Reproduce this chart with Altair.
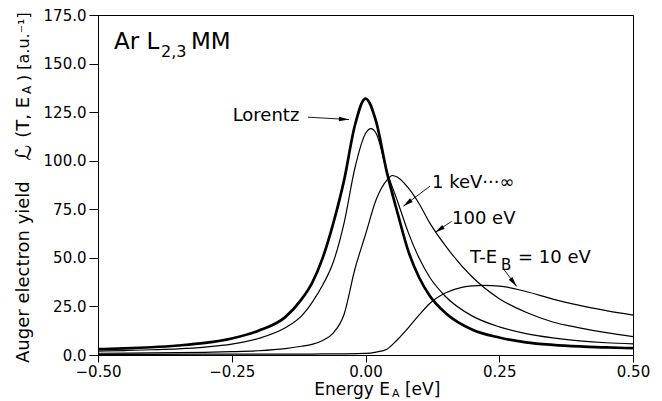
import altair as alt
import pandas as pd

# ---- data ----
lor_x = [-0.5, -0.45, -0.4, -0.35, -0.3, -0.25, -0.2, -0.15, -0.12, -0.1, -0.08, -0.06, -0.04, -0.02,
         0.0, 0.02, 0.04, 0.06, 0.08, 0.1, 0.12, 0.15, 0.2, 0.25, 0.3, 0.35, 0.4, 0.45, 0.5]
lor_y = [3.0, 3.4, 4.0, 4.9, 6.2, 8.5, 12.5, 19.5, 28.5, 37, 50, 68, 90, 118,
         132, 120, 94, 73, 53.5, 40, 30.5, 21.5, 13, 9, 6.5, 5.2, 4.4, 3.9, 3.5]

kev_x = [-0.5, -0.45, -0.4, -0.35, -0.3, -0.25, -0.2, -0.15, -0.12, -0.1, -0.08, -0.06, -0.04, -0.02,
         0.0, 0.01, 0.02, 0.04, 0.06, 0.08, 0.1, 0.12, 0.15, 0.2, 0.25, 0.3, 0.35, 0.4, 0.45, 0.5]
kev_y = [2.0, 2.3, 2.7, 3.2, 4.1, 5.6, 8.5, 14, 20, 27, 36, 48, 68, 96,
         114, 116.5, 114, 94.5, 79, 63, 50, 40, 30, 20, 14.5, 11, 8.8, 7.3, 6.3, 5.7]

ev100_x = [-0.5, -0.4, -0.3, -0.25, -0.2, -0.15, -0.12, -0.1, -0.08, -0.06, -0.04, -0.02,
           0.0, 0.02, 0.04, 0.05, 0.06, 0.08, 0.1, 0.12, 0.15, 0.2, 0.25, 0.3, 0.35, 0.4, 0.45, 0.5]
ev100_y = [0.9, 1.1, 1.4, 1.7, 2.2, 3.3, 4.5, 5.5, 7.5, 11.4, 21, 44,
           62, 80, 90, 92.4, 91.5, 86, 78, 68, 56, 40, 29, 22, 17, 14, 11.5, 9.5]

ev10_x = [-0.5, -0.3, -0.1, -0.05, 0.0, 0.02, 0.04, 0.06, 0.08, 0.1, 0.12, 0.15, 0.18, 0.2,
          0.22, 0.25, 0.3, 0.35, 0.4, 0.45, 0.5]
ev10_y = [0.3, 0.4, 0.5, 0.6, 0.8, 1.5, 3.0, 8.0, 14.0, 20.5, 26.5, 32, 34.8, 35.6,
          35.8, 35.5, 32.7, 28.8, 25.5, 22.8, 20.5]

x_ticks = [-0.5, -0.25, 0.0, 0.25, 0.5]
y_ticks = [0, 25, 50, 75, 100, 125, 150, 175]

# arrows: start (x, y) -> tip (x, y), head angle (deg, clockwise from up)
arrow_x1 = [-0.1075, 0.1206, 0.161, 0.259]
arrow_y1 = [122.4, 86.9, 68.8, 43.9]
arrow_x2 = [-0.031, 0.0707, 0.130, 0.2826]
arrow_y2 = [121.2, 76.6, 63.1, 35.3]
arrow_ang = [93, 233, 236.6, 142.7]

FONT = "DejaVu Sans"

xs = alt.Scale(domain=[-0.5, 0.5], nice=False, zero=False)
ys = alt.Scale(domain=[0, 175], nice=False)
AX = alt.Axis(values=x_ticks, format=".2f", title=None, grid=False, tickSize=7,
              labelPadding=2, labelFontSize=15, labelFont=FONT, labelColor="black",
              domainColor="black", tickColor="black", labelFlush=False)
AY = alt.Axis(values=y_ticks, format=".1f", title=None, grid=False, tickSize=9,
              labelPadding=3, labelFontSize=15, labelFont=FONT, labelColor="black",
              domainColor="black", tickColor="black")


def X(f="x"):
    return alt.X(f"{f}:Q", scale=xs, axis=AX)


def Y(f="y"):
    return alt.Y(f"{f}:Q", scale=ys, axis=AY)


def series(xv, yv, name):
    return pd.DataFrame({"x": xv, "y": yv, "s": name})


thin = pd.concat([series(kev_x, kev_y, "1 keV"),
                  series(ev100_x, ev100_y, "100 eV"),
                  series(ev10_x, ev10_y, "10 eV")])
lor = series(lor_x, lor_y, "Lorentz")

thin_lines = alt.Chart(thin).mark_line(color="black", strokeWidth=1.2, interpolate="monotone").encode(
    x=X(), y=Y(), detail="s:N")
lor_line = alt.Chart(lor).mark_line(color="black", strokeWidth=2.7, interpolate="monotone").encode(
    x=X(), y=Y())

arr = pd.DataFrame({"x": arrow_x1, "y": arrow_y1, "x2": arrow_x2, "y2": arrow_y2, "a": arrow_ang})
rules = alt.Chart(arr).mark_rule(color="black", strokeWidth=0.9).encode(
    x=X(), y=Y(), x2="x2:Q", y2="y2:Q")
heads = alt.Chart(arr).mark_point(shape="M0,0L0.45,2L-0.45,2Z", filled=True, size=100,
                                  color="black", opacity=1).encode(
    x=X("x2"), y=Y("y2"), angle=alt.Angle("a:Q", scale=None))


def txt(x, y, s, size=18, align="left", angle=0):
    d = pd.DataFrame({"x": [x], "y": [y], "t": [s]})
    return alt.Chart(d).mark_text(align=align, baseline="middle", fontSize=size, font=FONT,
                                  angle=angle, color="black").encode(x=X(), y=Y(), text="t:N")


texts = [
    # panel label
    txt(-0.4701, 161.1, "Ar L", 23),
    txt(-0.3822, 155.9, "2,3", 16),
    txt(-0.3262, 161.1, "MM", 23),
    # curve labels
    txt(-0.186, 122.9, "Lorentz", 18, "center"),
    txt(0.1243, 88.6, "1 keV···∞", 18),
    txt(0.1617, 69.8, "100 eV", 18),
    txt(0.1953, 49.9, "T-E", 18),
    txt(0.2533, 46.5, "B", 15),
    txt(0.2850, 49.9, "= 10 eV", 18),
    # x title
    txt(0.0458, -18.0, "Energy E", 17, "right"),
    txt(0.0495, -20.2, "A", 11),
    txt(0.0738, -18.0, "[eV]", 17),
    # y title (rotated)
    txt(-0.6383, -4.1, "Auger electron yield", 18, "left", 270),
    txt(-0.6383, 104.0, "ℒ", 22, "center", 270),
    txt(-0.6383, 132.8, "(T, E", 18, "right", 270),
    txt(-0.6327, 136.5, "A", 12, "center", 270),
    txt(-0.6383, 141.0, ") [a.u.⁻¹]", 16, "left", 270),
]

chart = alt.layer(thin_lines, lor_line, rules, heads, *texts).properties(
    width=535, height=340,
    autosize=alt.AutoSizeParams(type="none"),
    padding={"left": 90, "top": 7, "right": 21, "bottom": 50},
).configure_view(stroke="black", strokeWidth=1)

chart.save("out.html", embed_options={"renderer": "svg", "actions": False})
